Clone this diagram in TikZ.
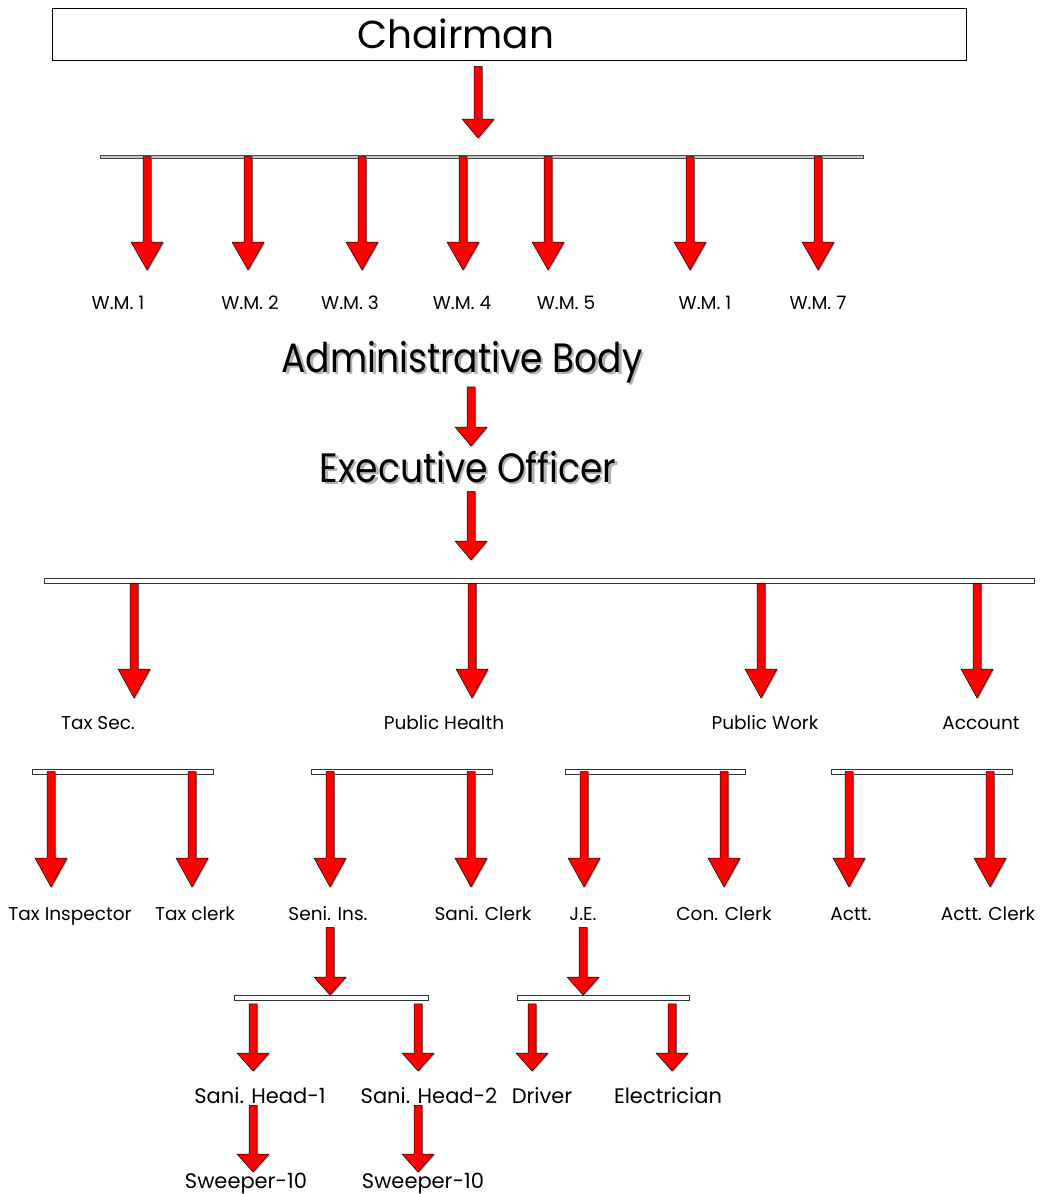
\documentclass[tikz,border=0pt]{standalone}
\usepackage{fontspec}
\setmainfont{Poppins}
\usetikzlibrary{positioning,calc,shadows}
\newcommand\narrowtext[1]{\scalebox{0.88}[1]{#1}}

\begin{document}
\begin{tikzpicture}[x=1pt,y=-1pt,
  chairbox/.style={rectangle,draw,thin,inner sep=0pt,minimum width=914pt,minimum height=52pt,anchor=north west,font=\fontsize{39}{42}\selectfont},
  title/.style={inner sep=0pt,anchor=base,font=\fontsize{41}{45}\selectfont},
  titleshadow/.style={title,text=gray!60},
  member/.style={inner sep=0pt,anchor=base,font=\fontsize{18.5}{22}\selectfont},
  staff/.style={inner sep=0pt,anchor=base,font=\fontsize{21}{24}\selectfont},
  topbar/.style={rectangle,draw=gray!60!black,fill=gray!45,inner sep=0pt,minimum height=3pt},
  bar/.style={rectangle,draw=black!80,fill=white,inner sep=0pt,minimum height=5pt,line width=0.6pt},
  flow/.style={fill=red,draw=black,line width=0.5pt,
    drop shadow={shadow xshift=1.2pt,shadow yshift=-0.8pt,fill=gray!70,opacity=1},
    to path={let \p1=(\tikztostart),\p2=(\tikztotarget) in
      (\x1-4pt,\y1) -- (\x1+4pt,\y1) -- (\x1+4pt,\y2+#1pt) -- (\x1+16pt,\y2+#1pt)
      -- (\x1,\y2) -- (\x1-16pt,\y2+#1pt) -- (\x1-4pt,\y2+#1pt) -- cycle}},
  flow/.default=28,
]
\useasboundingbox (0,0) rectangle (1039,1194);

% --- Chairman ---
\node[chairbox] (chair) at (52,8) {\makebox[914pt][l]{\hspace{305pt}Chairman}};
\coordinate (chairtip) at (478,138);
\draw[flow=19] ([yshift=-6pt]chairtip |- chair.south) to (chairtip);

% --- ward members ---
\node[topbar,minimum width=763pt] (wmbar) at (481.5,156.5) {};
\foreach \ax/\lx/\name [count=\i] in {147/118/W.M. 1,248/250/W.M. 2,362/350/W.M. 3,463/462/W.M. 4,548/566/W.M. 5,690/705/W.M. 1,818/818/W.M. 7}{
  \coordinate (wmtip\i) at (\ax,270);
  \draw[flow] (wmtip\i |- wmbar.center) to (wmtip\i);
  \node[member] (wm\i) at (\lx,309) {\name};
}

% --- administration ---
\node[titleshadow] at (464.5,374) {\narrowtext{Administrative Body}};
\node[title] (admin) at (462,372) {\narrowtext{Administrative Body}};
\coordinate (admintip) at (471,446);
\draw[flow=19] ([yshift=-4pt]admintip |- admin.south) to (admintip);

\node[titleshadow] at (470.5,484) {\narrowtext{Executive Officer}};
\node[title] (exec) at (468,482) {\narrowtext{Executive Officer}};
\coordinate (exectip) at (471,560);
\draw[flow=19] ([yshift=-9pt]exectip |- exec.south) to (exectip);

% --- sections ---
\node[bar,minimum width=990pt] (deptbar) at (539,580.5) {};
\foreach \ax/\lx/\name [count=\i] in {134/98/Tax Sec.,472/444/Public Health,761/765/Public Work,977/981/Account}{
  \coordinate (depttip\i) at (\ax,698);
  \draw[flow=29] (depttip\i |- deptbar.south) to (depttip\i);
  \node[member] (dept\i) at (\lx,729) {\name};
}

% --- section staff ---
\foreach \bx/\bw [count=\j] in {122.5/181,401.5/181,655/180,921.5/181}
  \node[bar,minimum width=\bw pt] (sbar\j) at (\bx,771.5) {};
\foreach \ax/\lx/\b/\name [count=\i] in {51/70/1/Tax Inspector,192/195/1/Tax clerk,330/328/2/Seni. Ins.,471/483/2/Sani. Clerk,584/583/3/J.E.,724/724/3/Con. Clerk,849/851/4/Actt.,990/988/4/Actt. Clerk}{
  \coordinate (stip\i) at (\ax,887);
  \draw[flow=29] (stip\i |- sbar\b.center) to (stip\i);
  \node[member] (staff\i) at (\lx,920) {\name};
}

% --- sanitation and works ---
\node[bar,minimum width=194pt] (sanbar) at (331,998) {};
\node[bar,minimum width=172pt] (jebar) at (603,998) {};
\coordinate (sentip) at (330,995);
\coordinate (jetip) at (583,995);
\draw[flow=18] ([yshift=-7pt]sentip |- staff3.south) to (sentip);
\draw[flow=18] ([yshift=-7pt]jetip |- staff5.south) to (jetip);

\foreach \ax/\lx/\bname/\name [count=\i] in {253/260/sanbar/Sani. Head-1,418/429/sanbar/Sani. Head-2,532/542/jebar/Driver,672/668/jebar/Electrician}{
  \coordinate (ltip\i) at (\ax,1071);
  \draw[flow=18] ([yshift=-3pt]ltip\i |- \bname.south) to (ltip\i);
  \node[staff] (low\i) at (\lx,1103) {\name};
}

\foreach \ax/\lx [count=\i] in {253/246,418/423}{
  \coordinate (swtip\i) at (\ax,1172);
  \draw[flow=18] ([yshift=-2pt]swtip\i |- low\i.south) to (swtip\i);
  \node[staff] (sweep\i) at (\lx,1188) {Sweeper-10};
}

\end{tikzpicture}
\end{document}
